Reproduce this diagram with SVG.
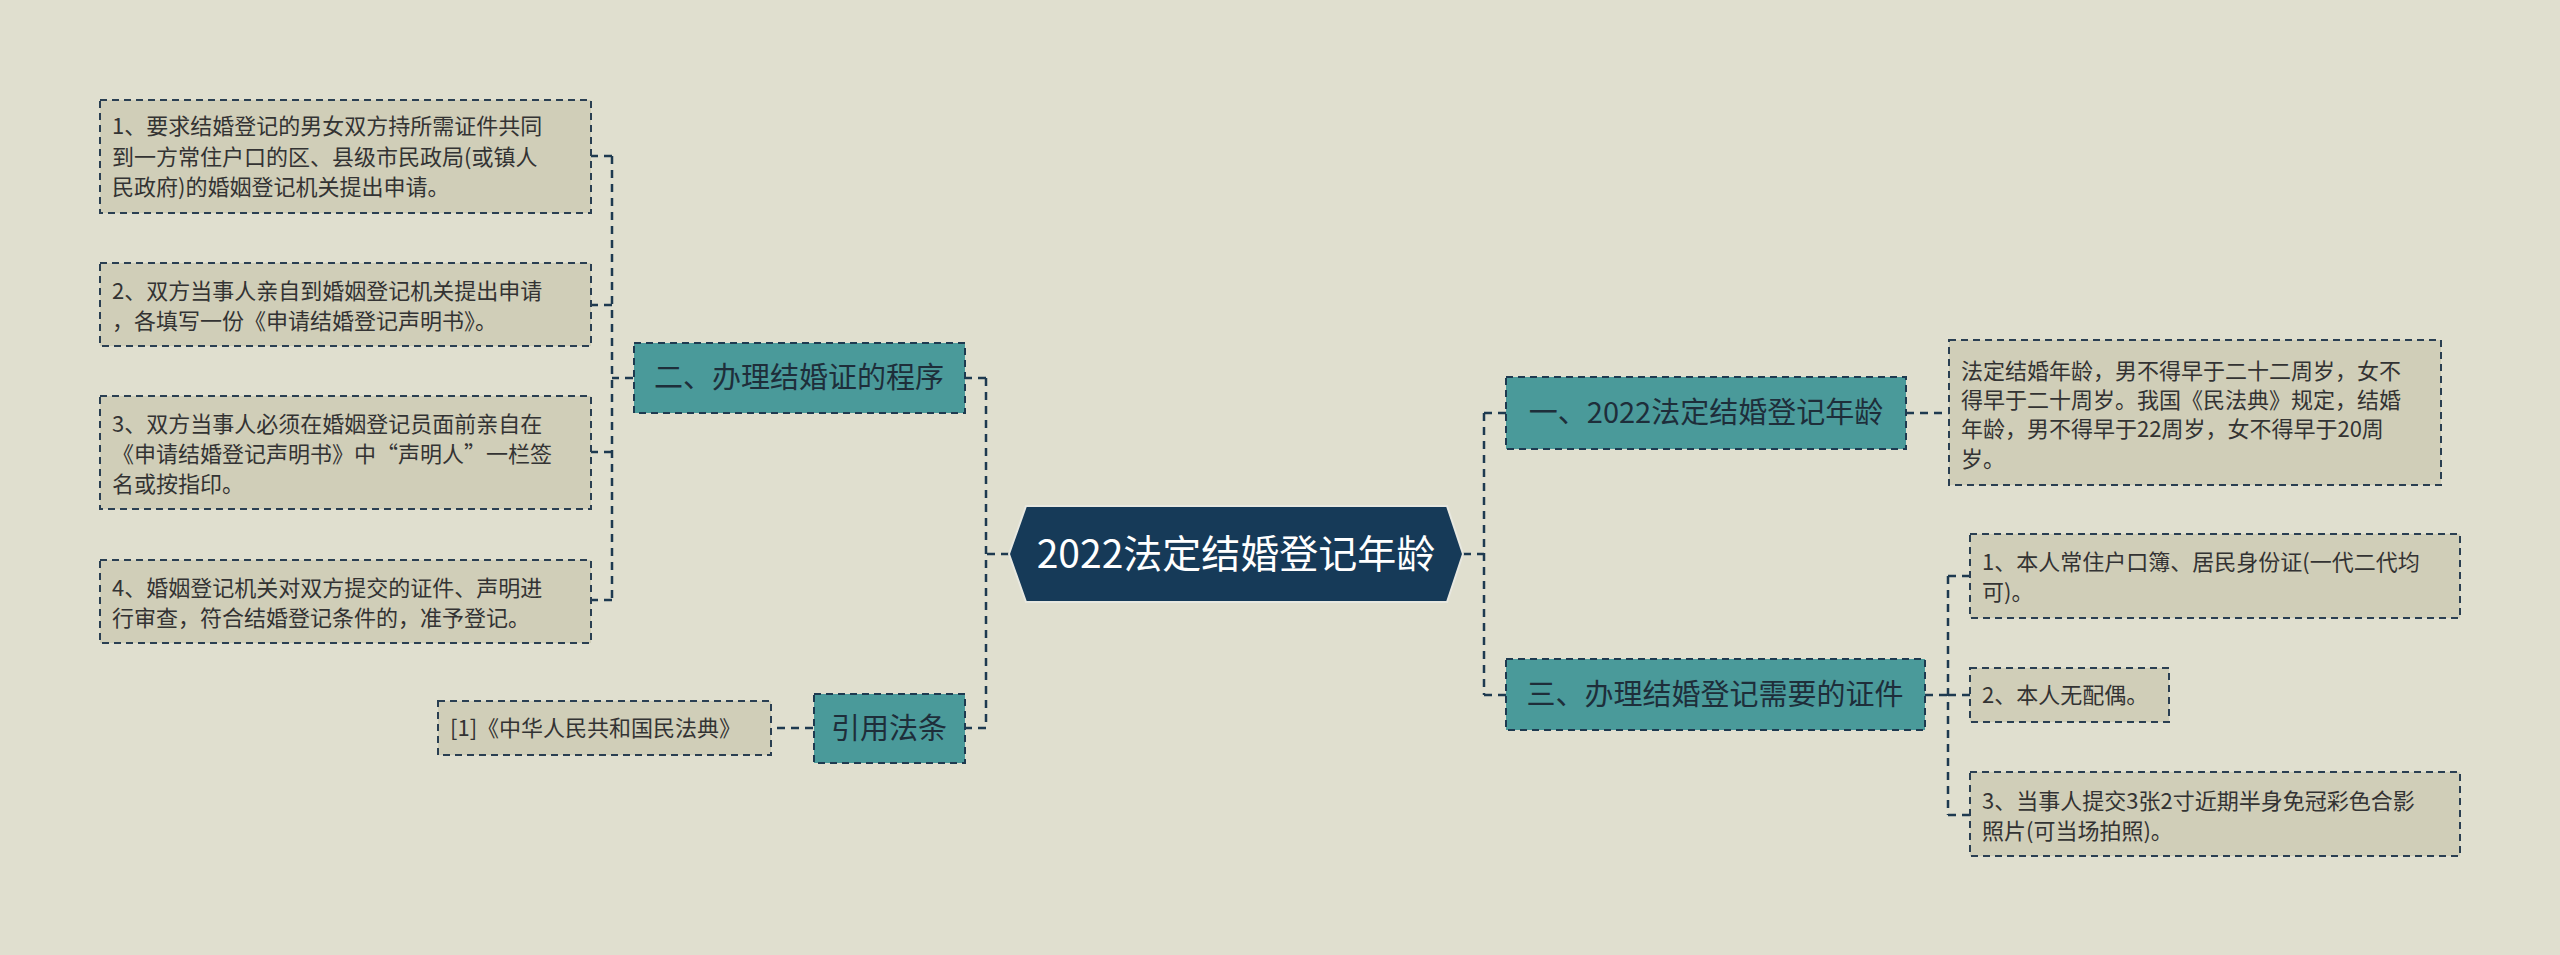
<svg xmlns="http://www.w3.org/2000/svg" width="2560" height="955" viewBox="0 0 2560 955">
<style>
.t{font-family:"Noto Sans CJK SC","Liberation Sans",sans-serif;fill:#333}
.leaf{fill:#d0ceb8;stroke:#2a3f52;stroke-width:2;stroke-dasharray:7 5}
.br{fill:#4a9a9a;stroke:#1e3a50;stroke-width:2;stroke-dasharray:7 5}
.c{fill:none;stroke:#1e3a50;stroke-width:2.5;stroke-dasharray:8 6}
.s{font-size:22px}
.m{font-size:29px;fill:#1e2e3a}
</style>
<rect width="2560" height="955" fill="#e0dfcf"/>
<g id="connectors">
<path class="c" d="M1009 554H986M986 378V728M986 378H965M986 728H965"/>
<path class="c" d="M633 378H612M612 156V600M612 156H591M612 305H591M612 452H591M612 600H591"/>
<path class="c" d="M813 728H771"/>
<path class="c" d="M1463 554H1484M1484 413V695M1484 413H1506M1484 695H1506"/>
<path class="c" d="M1906 413H1949"/>
<path class="c" d="M1925 695H1948M1948 576V815M1948 576H1970M1948 695H1970M1948 815H1970"/>
</g>
<g id="center">
<polygon points="1026,506 1447,506 1463,554 1447,602 1026,602 1009,554" fill="#163a58" stroke="#e8e8e0" stroke-width="2"/>
<text class="t" x="1236" y="568" font-size="39" text-anchor="middle" style="fill:#fff">2022法定结婚登记年龄</text>
</g>
<g id="n2"><rect class="br" x="634" y="343" width="331" height="70"/><text class="t m" x="799" y="388" text-anchor="middle">二、办理结婚证的程序</text></g>
<g id="n2a"><rect class="leaf" x="100" y="100" width="491" height="113"/>
<text class="t s" x="112" y="134">1、要求结婚登记的男女双方持所需证件共同</text>
<text class="t s" x="112" y="165">到一方常住户口的区、县级市民政局(或镇人</text>
<text class="t s" x="112" y="195">民政府)的婚姻登记机关提出申请。</text></g>
<g id="n2b"><rect class="leaf" x="100" y="263" width="491" height="83"/>
<text class="t s" x="112" y="299">2、双方当事人亲自到婚姻登记机关提出申请</text>
<text class="t s" x="112" y="329">，各填写一份《申请结婚登记声明书》。</text></g>
<g id="n2c"><rect class="leaf" x="100" y="396" width="491" height="113"/>
<text class="t s" x="112" y="432">3、双方当事人必须在婚姻登记员面前亲自在</text>
<text class="t s" x="112" y="462">《申请结婚登记声明书》中“声明人”一栏签</text>
<text class="t s" x="112" y="492">名或按指印。</text></g>
<g id="n2d"><rect class="leaf" x="100" y="560" width="491" height="83"/>
<text class="t s" x="112" y="596">4、婚姻登记机关对双方提交的证件、声明进</text>
<text class="t s" x="112" y="626">行审查，符合结婚登记条件的，准予登记。</text></g>
<g id="n4"><rect class="br" x="814" y="694" width="151" height="69"/><text class="t m" x="889" y="739" text-anchor="middle">引用法条</text></g>
<g id="n4a"><rect class="leaf" x="438" y="701" width="333" height="54"/><text class="t s" x="450" y="736">[1]《中华人民共和国民法典》</text></g>
<g id="n1"><rect class="br" x="1506" y="377" width="400" height="72"/><text class="t m" x="1706" y="423" text-anchor="middle">一、2022法定结婚登记年龄</text></g>
<g id="n1a"><rect class="leaf" x="1949" y="340" width="492" height="145"/>
<text class="t s" x="1961" y="379">法定结婚年龄，男不得早于二十二周岁，女不</text>
<text class="t s" x="1961" y="408">得早于二十周岁。我国《民法典》规定，结婚</text>
<text class="t s" x="1961" y="437">年龄，男不得早于22周岁，女不得早于20周</text>
<text class="t s" x="1961" y="467">岁。</text></g>
<g id="n3"><rect class="br" x="1506" y="659" width="419" height="71"/><text class="t m" x="1715" y="705" text-anchor="middle">三、办理结婚登记需要的证件</text></g>
<g id="n3a"><rect class="leaf" x="1970" y="534" width="490" height="84"/>
<text class="t s" x="1982" y="570">1、本人常住户口簿、居民身份证(一代二代均</text>
<text class="t s" x="1982" y="600">可)。</text></g>
<g id="n3b"><rect class="leaf" x="1970" y="668" width="199" height="54"/>
<text class="t s" x="1982" y="703">2、本人无配偶。</text></g>
<g id="n3c"><rect class="leaf" x="1970" y="772" width="490" height="84"/>
<text class="t s" x="1982" y="809">3、当事人提交3张2寸近期半身免冠彩色合影</text>
<text class="t s" x="1982" y="839">照片(可当场拍照)。</text></g>
</svg>
